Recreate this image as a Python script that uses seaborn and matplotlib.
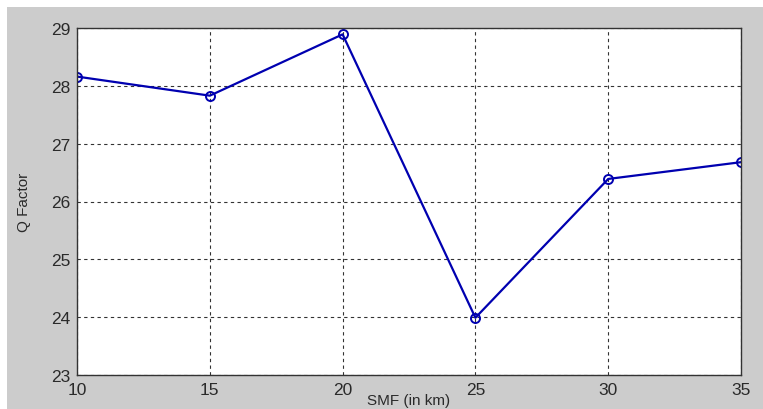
import numpy as np
import pandas as pd
import matplotlib
matplotlib.use("Agg")
import matplotlib.pyplot as plt
import seaborn as sns
from matplotlib.patches import Rectangle

# values
smf_km = [10, 15, 20, 25, 30, 35]
q_factor = [28.16, 27.83, 28.89, 23.99, 26.39, 26.68]
x_ticks = [10, 15, 20, 25, 30, 35]
y_ticks = [23, 24, 25, 26, 27, 28, 29]

df = pd.DataFrame({"SMF": smf_km, "Q": q_factor})

sns.set_style("white")
plt.rcParams['font.family'] = ['Liberation Sans', 'DejaVu Sans']

fig = plt.figure(figsize=(7.63, 4.10), dpi=100, facecolor="white")
# matlab-like grey panel behind the axes
fig.add_artist(Rectangle((7 / 763, 0), 1 - 7 / 763, 402 / 410,
                         transform=fig.transFigure, facecolor="#cccccc",
                         edgecolor="none", zorder=-5))
ax = fig.add_axes([77 / 763, 34 / 410, 664 / 763, 347 / 410])
ax.set_zorder(2)
ax.set_facecolor("white")

sns.lineplot(data=df, x="SMF", y="Q", ax=ax, color="#0000b0", linewidth=1.6,
             marker="o", markersize=6.5, markerfacecolor="none",
             markeredgecolor="#0000b0", markeredgewidth=1.4)

ax.set_xlim(10, 35)
ax.set_ylim(23, 29)
ax.set_xticks(x_ticks)
ax.set_yticks(y_ticks)
ax.set_xticklabels([str(t) for t in x_ticks])
ax.set_yticklabels([str(t) for t in y_ticks])
ax.grid(True, color="black", linestyle=(0, (3, 3)), linewidth=0.8, alpha=0.8)
ax.tick_params(direction="in", length=4, colors="#333333", labelsize=12.5,
               labelcolor="#2a2a2a")
ax.tick_params(axis="x", pad=5)
ax.tick_params(axis="y", pad=5)
for s in ax.spines.values():
    s.set_color("#333333")
    s.set_linewidth(1.0)

ax.set_xlabel("SMF (in km)", fontsize=11, color="#2a2a2a", labelpad=-2.5)
ax.set_ylabel("Q Factor", fontsize=11, color="#2a2a2a", labelpad=14)

fig.savefig("out.png", dpi=100)
